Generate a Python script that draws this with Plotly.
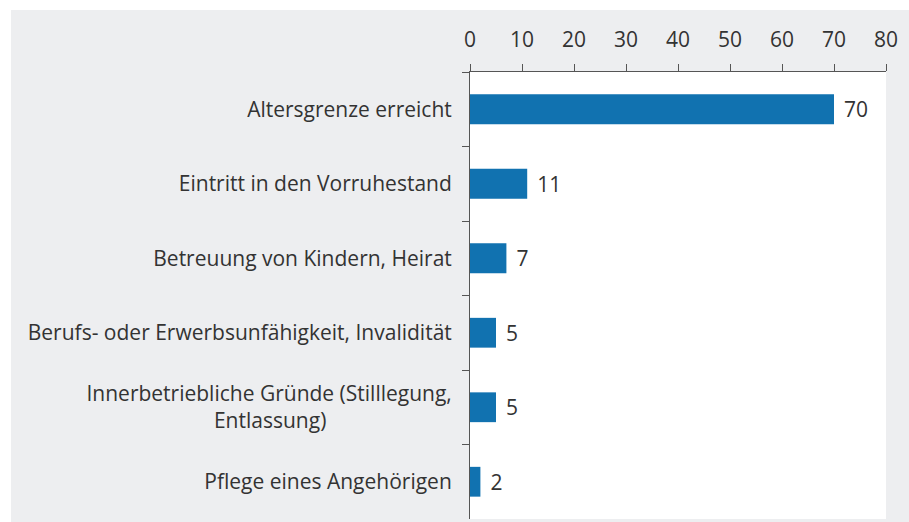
import plotly.graph_objects as go

categories = [
    "Altersgrenze erreicht",
    "Eintritt in den Vorruhestand",
    "Betreuung von Kindern, Heirat",
    "Berufs- oder Erwerbsunfähigkeit, Invalidität",
    "Innerbetriebliche Gründe (Stilllegung,<br>Entlassung)" + "\u00a0" * 23,
    "Pflege eines Angehörigen",
]
values = [70, 11, 7, 5, 5, 2]
x_ticks = [0, 10, 20, 30, 40, 50, 60, 70, 80]

W, H = 909, 522
L, R, T, B = 470, 23, 72, 3
pw, ph = W - L - R, H - T - B

GRAY = "#edeef0"
TXT = "#333333"
AX = "#555555"
FONT = "Open Sans"

fig = go.Figure(go.Bar(
    x=values, y=categories, orientation="h",
    marker=dict(color="#1172b0", line=dict(width=0)),
    width=0.4,
    text=[str(v) for v in values],
    texttemplate="\u2009\u2009%{text}",
    textposition="outside",
    textfont=dict(size=21, color=TXT, family=FONT),
    cliponaxis=False,
))

# white outer border strips (top and left)
fig.add_shape(type="rect", xref="paper", yref="paper",
              x0=(0 - L) / pw, x1=(W - L) / pw,
              y0=1 + (T - 10) / ph, y1=1 + T / ph + 0.01,
              fillcolor="white", line=dict(width=0), layer="below")
fig.add_shape(type="rect", xref="paper", yref="paper",
              x0=(0 - L) / pw - 0.01, x1=(11 - L) / pw,
              y0=-B / ph - 0.01, y1=1 + T / ph + 0.01,
              fillcolor="white", line=dict(width=0), layer="below")

fig.update_layout(
    width=W, height=H,
    margin=dict(l=L, r=R, t=T, b=B, pad=0),
    paper_bgcolor=GRAY, plot_bgcolor="white",
    showlegend=False,
    font=dict(family=FONT, color=TXT, size=21),
    bargap=0.6,
    xaxis=dict(
        side="top", range=[0, 80], tickvals=x_ticks,
        ticks="outside", ticklen=7, tickcolor=AX, tickwidth=1,
        showline=True, linecolor=AX, linewidth=1,
        showgrid=False, zeroline=False,
        tickfont=dict(size=21, color=TXT, family=FONT),
        ticklabelstandoff=9, fixedrange=True,
    ),
    yaxis=dict(
        autorange="reversed", tickson="boundaries",
        ticks="outside", ticklen=7, tickcolor=AX, tickwidth=1,
        showline=True, linecolor=AX, linewidth=1,
        showgrid=False, zeroline=False,
        tickfont=dict(size=21, color=TXT, family=FONT),
        ticklabelstandoff=13,
    ),
)

fig.write_html("out.html", config={"displayModeBar": False},
               post_script="document.body.style.margin='0';")
